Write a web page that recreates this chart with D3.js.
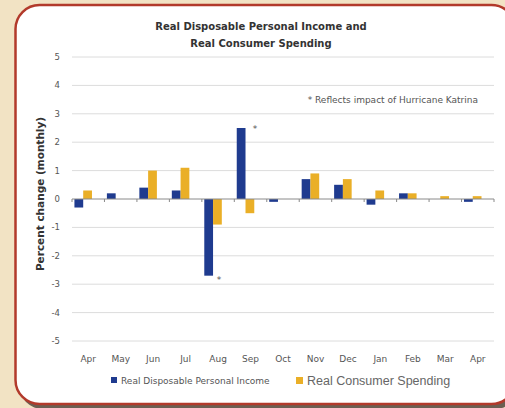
<!DOCTYPE html>
<html>
<head>
<meta charset="utf-8">
<script src="https://cdn.jsdelivr.net/npm/d3@7"></script>
<style>
  body { margin: 0; background: #f2e3c4; }
  svg { display: block; }
</style>
</head>
<body>
<script>
// months shown on the x axis
var months = ['Apr', 'May', 'Jun', 'Jul', 'Aug', 'Sep', 'Oct', 'Nov', 'Dec', 'Jan', 'Feb', 'Mar', 'Apr'];
// real disposable personal income, % change
var income = [-0.3, 0.2, 0.4, 0.3, -2.7, 2.5, -0.1, 0.7, 0.5, -0.2, 0.2, 0.0, -0.1];
// real consumer spending, % change
var spending = [0.3, 0.0, 1.0, 1.1, -0.9, -0.5, 0.0, 0.9, 0.7, 0.3, 0.2, 0.1, 0.1];
var yTicks = [5, 4, 3, 2, 1, 0, -1, -2, -3, -4, -5];
var seriesNames = ['Real Disposable Personal Income', 'Real Consumer Spending'];

var W = 505, H = 408;
var navy = '#1f3b8f', gold = '#eaaf27';
var sans = '"DejaVu Sans", Verdana, sans-serif';

var svg = d3.select('body').append('svg').attr('width', W).attr('height', H);

// frame: shadow, then white panel with red border
svg.append('rect')
    .attr('x', 19).attr('y', 9).attr('width', 500).attr('height', 400)
    .attr('rx', 24)
    .style('fill', '#6b5f52');
svg.append('rect')
    .attr('x', 15.5).attr('y', 5).attr('width', 500).attr('height', 399)
    .attr('rx', 24)
    .style('fill', '#fff')
    .style('stroke', '#b23a2b')
    .style('stroke-width', 2.5);

var x = d3.scaleBand()
    .domain(d3.range(months.length))
    .range([72, 494])
    .padding(0);

var y = d3.scaleLinear()
    .domain([-5, 5])
    .range([341, 57]);

// gridlines
svg.append('g')
    .selectAll('line')
    .data(yTicks.filter(function(d) { return d !== 0; }))
    .enter().append('line')
    .attr('x1', 72).attr('x2', 494)
    .attr('y1', function(d) { return y(d); })
    .attr('y2', function(d) { return y(d); })
    .style('stroke', '#dcdcdc')
    .style('stroke-width', 1);

// y labels
svg.append('g')
    .selectAll('text')
    .data(yTicks)
    .enter().append('text')
    .attr('x', 60)
    .attr('y', function(d) { return y(d) + 3; })
    .attr('text-anchor', 'end')
    .style('font', '8.5px ' + sans)
    .style('fill', '#555')
    .text(function(d) { return d; });

// bars
var bw = x.bandwidth() * 0.27, off = x.bandwidth() * 0.075;
function drawBars(vals, color, shift) {
    svg.append('g')
        .selectAll('rect')
        .data(vals)
        .enter().append('rect')
        .attr('x', function(d, i) { return x(i) + off + shift; })
        .attr('y', function(d) { return y(Math.max(0, d)); })
        .attr('width', bw)
        .attr('height', function(d) { return Math.abs(y(d) - y(0)); })
        .style('fill', color);
}
drawBars(income, navy, 0);
drawBars(spending, gold, bw);

// zero axis with ticks
svg.append('line')
    .attr('x1', 72).attr('x2', 494)
    .attr('y1', y(0)).attr('y2', y(0))
    .style('stroke', '#8a8a8a').style('stroke-width', 1);
svg.append('g')
    .selectAll('line')
    .data(d3.range(months.length + 1))
    .enter().append('line')
    .attr('x1', function(i) { return 72 + i * x.step(); })
    .attr('x2', function(i) { return 72 + i * x.step(); })
    .attr('y1', y(0)).attr('y2', y(0) + 3)
    .style('stroke', '#8a8a8a');

// month labels
svg.append('g')
    .selectAll('text')
    .data(months)
    .enter().append('text')
    .attr('x', function(d, i) { return x(i) + x.bandwidth() / 2; })
    .attr('y', 362)
    .attr('text-anchor', 'middle')
    .style('font', '9px ' + sans)
    .style('fill', '#555')
    .text(function(d) { return d; });

// title
var title = svg.append('text')
    .attr('text-anchor', 'middle')
    .style('font', 'bold 10px ' + sans)
    .style('fill', '#333');
title.append('tspan').attr('x', 261).attr('y', 30).text('Real Disposable Personal Income and');
title.append('tspan').attr('x', 261).attr('y', 47).text('Real Consumer Spending');

// y title
svg.append('text')
    .attr('transform', 'translate(44,194) rotate(-90)')
    .attr('text-anchor', 'middle')
    .style('font', 'bold 10.5px ' + sans)
    .style('fill', '#333')
    .text('Percent change (monthly)');

// note and asterisks
svg.append('text')
    .attr('x', 478).attr('y', 103)
    .attr('text-anchor', 'end')
    .style('font', '9px ' + sans)
    .style('fill', '#555')
    .text('* Reflects impact of Hurricane Katrina');
svg.append('text')
    .attr('x', x(5) + off + bw * 2 - 1.5).attr('y', y(income[5]) + 4)
    .style('font', '9px ' + sans)
    .style('fill', '#555')
    .text('*');
svg.append('text')
    .attr('x', x(4) + off + bw * 2 - 5).attr('y', y(income[4]) + 7)
    .style('font', '9px ' + sans)
    .style('fill', '#555')
    .text('*');

// legend
var leg = svg.append('g');
leg.append('rect').attr('x', 111).attr('y', 377).attr('width', 6).attr('height', 6).style('fill', navy);
leg.append('text').attr('x', 121).attr('y', 383.5)
    .style('font', '9px ' + sans)
    .style('fill', '#555')
    .text(seriesNames[0]);
leg.append('rect').attr('x', 296).attr('y', 377).attr('width', 7).attr('height', 7).style('fill', gold);
leg.append('text').attr('x', 307).attr('y', 385)
    .style('font', '12.5px "Liberation Sans", Arial, sans-serif')
    .style('fill', '#666')
    .text(seriesNames[1]);
</script>
</body>
</html>
